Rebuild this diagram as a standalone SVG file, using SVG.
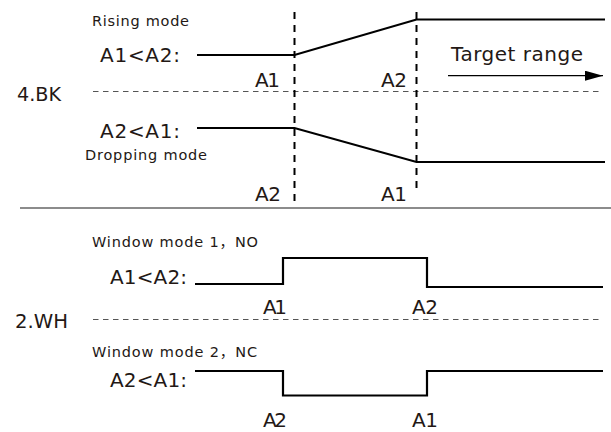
<svg xmlns="http://www.w3.org/2000/svg" width="611" height="432" viewBox="0 0 611 432">
<style>
text{font-family:"DejaVu Sans","Noto Sans CJK SC",sans-serif;fill:#231815}
.big{font-size:20px}
.small{font-size:14.5px}
.sig{fill:none;stroke:#000;stroke-width:2.2;stroke-linejoin:miter}
.vd{stroke:#000;stroke-width:2;stroke-dasharray:7 6}
.hd{stroke:#555;stroke-width:1;stroke-dasharray:5.5 4.5}
</style>
<defs>
<marker id="ah" viewBox="0 0 18 10" refX="18" refY="5" markerWidth="18" markerHeight="10" markerUnits="userSpaceOnUse" orient="auto">
<path d="M0,0 L18,5 L0,10 Z" fill="#000"/>
</marker>
</defs>
<rect width="611" height="432" fill="#fff"/>
<g id="guides">
<line class="hd" x1="93" y1="91.5" x2="602" y2="91.5"/>
<line class="hd" x1="93" y1="319.5" x2="602" y2="319.5"/>
<line x1="20" y1="208" x2="611" y2="208" stroke="#666" stroke-width="1.5"/>
<line class="vd" x1="294.5" y1="12" x2="294.5" y2="201"/>
<line class="vd" x1="416.5" y1="12" x2="416.5" y2="193"/>
</g>
<g id="connectors">
<polyline class="sig" points="197,55 294.5,55 416.5,19.5 605,19.5"/>
<polyline class="sig" points="197,128 294.5,128 416.5,162 605,162"/>
<line x1="448" y1="75.7" x2="603" y2="75.7" stroke="#000" stroke-width="1.3" marker-end="url(#ah)"/>
<polyline class="sig" points="195,284 283,284 283,258 427,258 427,287 603,287"/>
<polyline class="sig" points="195,371 283,371 283,395.5 427,395.5 427,371 603,371"/>
</g>
<g id="bk">
<text x="17" y="101" class="big" textLength="44" lengthAdjust="spacingAndGlyphs">4.BK</text>
<text x="92" y="26" class="small" textLength="97" lengthAdjust="spacing">Rising mode</text>
<text x="100" y="62" class="big" textLength="80" lengthAdjust="spacing">A1&lt;A2:</text>
<text x="100" y="138" class="big" textLength="80" lengthAdjust="spacing">A2&lt;A1:</text>
<text x="85" y="160" class="small" textLength="122" lengthAdjust="spacing">Dropping mode</text>
<text x="255" y="87" class="big" textLength="25" lengthAdjust="spacing">A1</text>
<text x="381" y="87" class="big" textLength="26" lengthAdjust="spacing">A2</text>
<text x="255" y="201" class="big" textLength="26" lengthAdjust="spacing">A2</text>
<text x="381" y="201" class="big" textLength="26" lengthAdjust="spacing">A1</text>
<text x="451" y="61" class="big" textLength="132" lengthAdjust="spacing">Target range</text>
</g>
<g id="wh">
<text x="15" y="328" class="big" textLength="53" lengthAdjust="spacingAndGlyphs">2.WH</text>
<text x="92" y="246.5" class="small" textLength="166" lengthAdjust="spacing">Window mode 1，NO</text>
<text x="110" y="284" class="big" textLength="77" lengthAdjust="spacing">A1&lt;A2:</text>
<text x="92" y="357" class="small" textLength="165" lengthAdjust="spacing">Window mode 2，NC</text>
<text x="110" y="387" class="big" textLength="77" lengthAdjust="spacing">A2&lt;A1:</text>
<text x="263" y="314" class="big" textLength="24" lengthAdjust="spacing">A1</text>
<text x="412" y="314" class="big" textLength="26" lengthAdjust="spacing">A2</text>
<text x="263" y="427" class="big" textLength="24" lengthAdjust="spacing">A2</text>
<text x="412" y="427" class="big" textLength="26" lengthAdjust="spacing">A1</text>
</g>
</svg>
